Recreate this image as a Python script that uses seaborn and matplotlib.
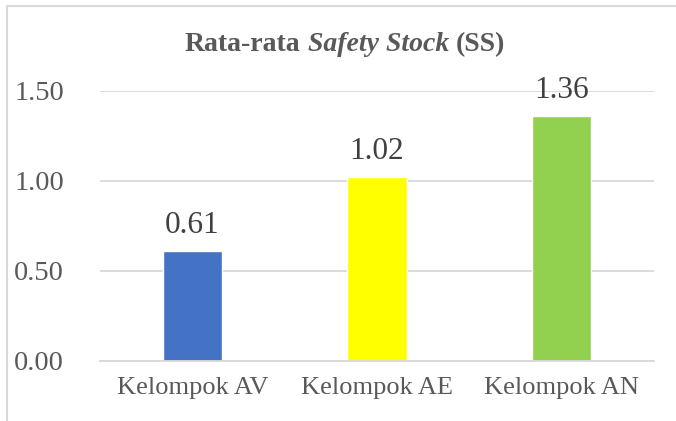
import matplotlib
matplotlib.use("Agg")
import matplotlib.pyplot as plt
import seaborn as sns
import pandas as pd
from matplotlib.lines import Line2D

categories = ["Kelompok AV", "Kelompok AE", "Kelompok AN"]
values = [0.61, 1.02, 1.36]
colors = ["#4472C4", "#FFFF00", "#92D050"]
yticks = [0.0, 0.5, 1.0, 1.5]
title_parts = [("Rata-rata", "normal"), ("Safety Stock", "italic"), ("(SS)", "normal")]

sns.set_theme(style="white")
plt.rcParams["font.family"] = ["Liberation Serif", "DejaVu Serif"]

W, H = 676, 421
DPI = 100
fig = plt.figure(figsize=(W / DPI, H / DPI), dpi=DPI)
fig.patch.set_facecolor("white")

ax = fig.add_axes([100 / W, (H - 360.7) / H, (654 - 100) / W, (360.7 - 90.7) / H])

df = pd.DataFrame({"cat": categories, "val": values})
sns.barplot(data=df, x="cat", y="val", hue="cat", palette=colors,
            width=0.32, legend=False, ax=ax, saturation=1)

ax.set_xlim(-0.5, 2.5)
ax.set_ylim(0, 1.5)
ax.set_yticks(yticks)
ax.set_yticklabels([f"{v:.2f}" for v in yticks])
ax.set_xlabel("")
ax.set_ylabel("")
ax.yaxis.grid(True, color="#D9D9D9", linewidth=1.3)
ax.set_axisbelow(True)
for s in ["top", "right", "left"]:
    ax.spines[s].set_visible(False)
ax.spines["bottom"].set_color("#D9D9D9")
ax.spines["bottom"].set_linewidth(1.3)
ax.tick_params(axis="y", length=0, pad=26, labelsize=20.5, labelcolor="#595959")
ax.tick_params(axis="x", length=0, pad=12, labelsize=19, labelcolor="#595959")

for i, v in enumerate(values):
    ax.annotate(f"{v:.2f}", xy=(i, v), xytext=(0, 13), textcoords="offset points",
                ha="center", va="baseline", fontsize=22.5, color="#404040")

# title with mixed styles
fs = 20
texts = []
for s, st in title_parts:
    t = fig.text(0, 1 - 51 / H, s, fontsize=fs, fontweight="bold", fontstyle=st,
                 color="#595959", va="baseline", ha="left")
    texts.append(t)
fig.canvas.draw()
r = fig.canvas.get_renderer()
widths = [t.get_window_extent(r).width for t in texts]
space = fs * 0.25 * DPI / 72
total = sum(widths) + space * (len(widths) - 1)
x = 345 - total / 2
for t, w in zip(texts, widths):
    t.set_x(x / W)
    x += w + space

# chart border (partially cropped)
bc = "#D9D9D9"
fig.add_artist(Line2D([6.5 / W, 6.5 / W], [0, 1 - 6 / H], transform=fig.transFigure,
                      color=bc, linewidth=1.5))
fig.add_artist(Line2D([6.5 / W, 1], [1 - 6 / H, 1 - 6 / H], transform=fig.transFigure,
                      color=bc, linewidth=1.5))

fig.savefig("out.png", dpi=DPI, facecolor="white")
